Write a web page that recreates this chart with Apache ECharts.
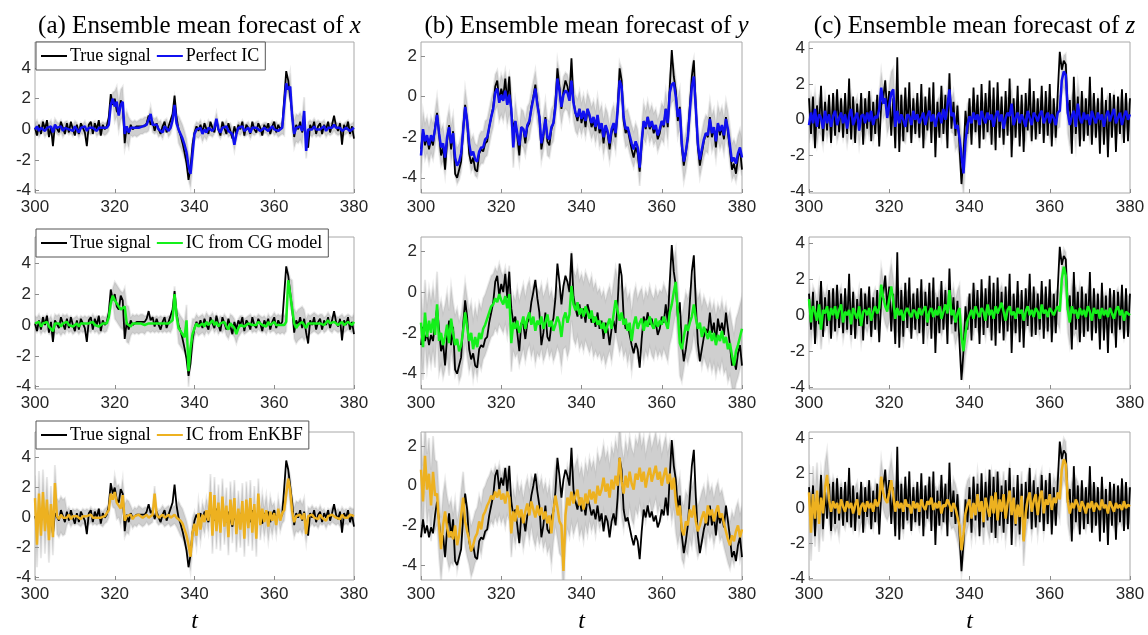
<!DOCTYPE html>
<html><head><meta charset="utf-8">
<script src="https://cdn.jsdelivr.net/npm/echarts@6/dist/echarts.min.js"></script>
<style>html,body{margin:0;padding:0;background:#fff}#c{width:1148px;height:635px}</style>
</head><body><div id="c"></div>
<script>
// time grid: t = 300 .. 380, step 0.5
const T_START = 300, T_STEP = 0.5;
const X_TICKS = [300, 320, 340, 360, 380];

// true signals
const trueX = [
 0.1,-0.4,0.3,-0.3,0.5,0.0,0.6,-0.5,0.2,-1.1,
 0.3,0.4,-0.2,0.5,0.1,-0.3,0.4,-0.2,0.5,0.0,
 -0.4,0.3,-0.3,0.4,0.1,-0.2,-1.1,0.3,0.5,-0.3,
 0.4,0.0,0.6,-0.4,0.3,0.0,0.2,0.8,2.3,1.6,
 2.0,1.2,1.0,1.9,1.6,-0.9,0.2,-0.3,0.3,0.0,
 0.1,0.2,0.1,0.2,0.3,0.2,0.4,0.9,0.3,0.5,
 -0.1,0.4,0.0,-0.3,0.2,0.5,-0.2,0.2,0.1,1.0,
 2.2,0.8,0.0,-0.4,-0.9,-1.5,-2.2,-3.3,-2.5,-1.0,
 -0.2,0.2,-0.1,0.3,-0.2,0.4,0.0,-0.3,0.5,0.1,
 -0.2,0.6,0.0,-0.4,0.5,0.1,-0.3,0.4,-0.1,-0.6,
 0.2,-0.3,0.3,0.0,0.5,-0.4,0.3,0.1,-0.3,0.5,
 0.0,-0.2,0.4,0.1,-0.4,0.3,0.0,0.4,-0.3,0.2,
 0.5,-0.2,0.3,0.0,0.2,0.1,3.8,3.2,3.3,1.0,
 -0.5,0.3,0.0,0.5,-0.2,0.4,-0.5,-1.2,0.3,0.0,
 0.5,-0.3,0.2,0.4,-0.3,0.3,0.0,0.5,-0.2,0.3,
 0.9,0.2,-0.1,0.4,-1.0,0.3,0.0,0.5,-0.3,0.2,
 -0.6];
const trueY = [
 -2.6,-1.7,-2.4,-2.0,-2.6,-2.1,-2.4,-1.5,-0.8,-1.8,
 -2.9,-2.5,-3.6,-2.2,-1.4,-2.6,-1.7,-3.8,-4.0,-3.6,
 -3.2,-1.6,-0.4,-1.2,-2.8,-3.3,-3.0,-3.6,-3.7,-2.8,
 -2.6,-2.7,-2.3,-2.2,-1.5,-1.0,-0.5,0.5,0.8,-0.2,
 0.4,0.0,0.9,-0.3,1.0,-0.8,-1.5,-1.2,-2.0,-2.9,
 -1.5,-1.6,-2.3,-1.5,-1.3,-0.5,0.0,0.6,-0.3,-1.0,
 -2.6,-2.0,-1.0,-2.2,-2.4,-1.6,-1.3,-0.3,1.4,0.5,
 -0.6,0.3,0.8,0.5,0.0,1.9,-0.2,-0.8,-1.2,-0.6,
 -1.3,-0.8,-1.5,-0.6,-1.0,-1.5,-1.2,-1.7,-1.0,-1.8,
 -1.4,-2.3,-1.5,-1.8,-2.6,-1.8,-1.4,-2.0,-0.6,1.4,
 0.8,-1.2,-1.8,-1.6,-2.1,-2.6,-3.0,-2.5,-2.8,-3.7,
 -2.3,-1.2,-1.6,-1.0,-1.6,-1.3,-1.8,-1.5,-2.1,-1.8,
 -1.2,-1.5,-0.6,-1.5,0.5,2.3,1.0,0.3,-1.2,-0.5,
 -2.5,-3.4,-2.8,-2.0,-0.5,1.0,1.8,-0.6,-2.5,-3.4,
 -2.8,-2.2,-1.8,-2.0,-1.0,-2.0,-1.5,-2.5,-1.3,-1.9,
 -1.5,-2.1,-1.0,-1.8,-2.6,-3.6,-3.3,-3.8,-3.0,-2.6,
 -3.6];
const trueZ = [
 1.2,-0.8,1.3,-1.6,0.8,-0.5,1.9,-1.2,1.0,-0.6,
 1.4,-1.3,1.5,-0.9,1.7,-0.7,1.2,-1.0,1.5,-0.8,
 2.3,-1.1,1.3,-1.3,0.9,-0.6,1.5,-1.4,1.2,-0.5,
 1.6,-1.2,1.0,-0.8,1.4,-1.5,0.8,1.2,2.2,0.4,
 1.6,-0.9,1.2,-1.6,3.5,-1.8,1.4,-1.2,1.8,-0.7,
 2.1,-1.3,1.2,-0.8,1.5,-1.0,2.0,-1.6,1.3,-0.6,
 1.8,-1.3,2.1,-2.1,1.0,-1.0,1.9,-0.8,1.4,-1.6,
 2.6,-0.5,1.0,-0.9,0.8,-1.5,-3.6,-2.0,0.5,-0.8,
 1.2,-1.4,1.8,-0.7,1.4,-1.6,2.0,-1.1,1.5,-0.7,
 2.2,-1.4,1.8,-1.7,2.1,-1.0,1.3,-1.4,1.6,-0.9,
 2.3,-2.1,1.2,-1.0,1.9,-1.5,1.4,-1.8,1.5,-0.6,
 2.3,-1.2,1.6,-1.1,1.2,-0.8,1.9,-1.3,1.6,-0.9,
 2.0,-1.5,1.2,-1.0,1.5,3.8,2.8,3.3,3.1,0.3,
 1.1,-1.9,2.4,-0.8,1.3,-1.5,1.6,-1.2,1.2,-0.9,
 2.4,-1.4,1.5,-1.0,1.2,-1.9,1.8,-1.4,1.1,-2.1,
 1.5,-1.0,1.4,-1.8,1.3,-0.8,1.7,-1.3,1.5,-1.2,
 1.2];

// ensemble mean forecasts
const fcX_perfect = [
 0.0,0.2,-0.1,0.1,0.2,-0.1,0.1,0.0,0.2,-0.2,
 0.3,0.1,0.0,0.2,-0.1,0.1,0.2,0.0,0.1,-0.1,
 0.2,0.1,-0.2,0.1,0.0,0.2,-0.1,0.1,0.0,0.1,
 0.2,-0.1,0.1,0.0,0.1,0.0,0.1,0.3,1.6,2.0,
 1.5,1.8,0.9,1.6,1.8,-0.3,0.2,-0.2,0.1,0.0,
 0.1,0.0,0.1,0.2,0.2,0.3,0.3,0.4,1.0,0.3,
 0.2,0.3,0.0,0.1,-0.2,0.2,0.3,-0.1,0.1,0.6,
 1.6,0.4,0.0,-0.3,-0.6,-1.0,-1.5,-2.4,-2.9,-1.6,
 -0.3,0.0,-0.1,0.1,-0.3,0.0,-0.2,0.1,0.0,-0.1,
 0.1,0.7,0.0,-0.2,0.1,0.0,0.2,-0.1,0.0,-0.3,
 -1.0,-0.3,0.1,0.0,0.2,-0.1,0.0,0.1,-0.2,0.1,
 0.0,0.1,0.2,-0.1,0.0,0.1,0.1,-0.1,0.0,0.2,
 0.0,0.1,-0.1,0.0,0.1,0.0,3.0,2.6,2.8,0.8,
 -0.3,0.1,0.0,0.2,-0.1,1.2,-1.4,0.0,0.1,0.0,
 0.2,0.0,0.1,0.0,0.1,0.2,-0.1,0.1,0.0,0.1,
 0.3,0.1,0.0,0.1,-0.1,0.0,0.1,0.2,-0.1,0.0,
 0.1];
const fcX_cg = [
 0.1,0.0,0.2,-0.1,0.1,0.0,0.2,-0.1,0.0,-0.4,
 0.1,0.0,0.1,-0.1,0.1,0.0,0.2,0.0,0.1,-0.1,
 0.0,0.1,-0.1,0.1,0.0,0.1,0.0,0.1,0.0,0.2,
 0.0,0.1,-0.1,0.0,0.1,0.0,0.1,0.5,1.4,1.9,
 1.6,1.4,1.2,1.0,0.9,1.2,0.1,0.0,-0.1,0.1,
 0.0,0.1,0.0,0.1,0.1,0.0,0.1,0.1,0.0,0.1,
 0.0,0.1,0.0,0.1,0.0,0.1,0.0,0.1,0.0,0.3,
 2.0,0.6,-0.2,-0.4,-0.6,-0.8,0.3,-3.0,-1.5,-0.6,
 -0.2,0.1,-0.1,0.0,0.1,-0.1,0.2,0.0,0.1,0.3,
 0.0,0.2,-0.1,0.1,0.0,0.2,-0.1,-0.3,0.1,0.0,
 -0.2,-0.6,-0.2,0.0,0.1,-0.1,0.0,0.1,0.2,0.0,
 0.1,0.0,0.2,0.1,0.0,0.1,-0.1,0.2,0.0,0.1,
 0.2,0.0,0.1,0.0,0.1,0.0,0.2,2.9,2.0,1.9,
 0.1,-0.2,0.0,0.1,0.2,0.0,-0.2,0.1,0.0,0.1,
 0.2,0.1,0.0,0.1,0.2,0.0,0.1,0.3,0.1,0.0,
 0.2,0.1,0.0,0.1,0.2,0.0,0.1,0.2,0.1,0.0,
 0.2];
const fcX_enkbf = [
 1.3,-1.8,1.6,-1.2,1.7,-0.9,1.2,-1.5,0.9,-1.3,
 2.3,0.1,-0.1,0.2,0.0,0.1,0.0,0.2,-0.1,0.1,
 0.0,0.1,0.0,-0.1,0.1,0.0,0.1,0.0,0.2,0.0,
 0.1,0.0,0.1,0.0,-0.1,0.1,0.2,0.5,1.6,1.2,
 1.7,1.0,1.1,0.6,1.5,-0.2,0.1,0.0,0.2,-0.1,
 0.1,0.0,0.2,0.1,0.0,0.1,0.2,0.0,0.1,0.2,
 1.6,0.2,0.0,0.1,0.2,0.0,0.1,0.2,0.0,0.1,
 0.2,0.0,0.1,-0.2,-0.4,-0.8,-1.2,-1.8,-2.6,-1.0,
 -0.4,-1.2,0.3,-0.8,0.2,-0.3,0.5,-0.2,1.7,-1.2,
 1.5,-0.9,1.0,-1.0,1.4,-0.6,0.8,-1.3,1.2,-0.5,
 1.3,-1.1,0.6,-0.8,1.1,-1.4,1.2,-0.7,1.3,-1.0,
 0.9,-1.4,1.6,-0.5,0.6,-0.3,0.5,-0.6,0.4,-0.2,
 0.3,-0.5,0.6,-0.2,0.3,0.5,1.6,2.6,1.8,0.4,
 -0.3,0.1,0.0,0.2,-0.1,0.3,-1.1,0.1,0.0,0.2,
 0.0,0.1,-0.1,0.2,0.0,0.1,-0.2,0.1,0.0,0.2,
 0.1,0.0,0.1,-0.1,0.2,0.0,0.1,0.0,0.2,0.1,
 0.1];
const fcY_perfect = [
 -2.9,-1.6,-2.2,-1.9,-2.4,-1.9,-2.2,-1.6,-0.9,-1.8,
 -2.5,-2.3,-3.0,-2.0,-1.5,-2.3,-1.8,-3.0,-3.4,-3.2,
 -2.8,-1.7,-0.5,-1.2,-2.3,-2.9,-2.7,-3.1,-3.2,-2.7,
 -2.5,-2.5,-2.1,-2.0,-1.5,-1.0,-0.6,0.2,0.4,-0.3,
 0.1,-0.2,0.3,-0.4,0.1,-0.6,-2.5,-1.2,-1.8,-2.4,
 -1.5,-1.6,-2.0,-1.4,-1.2,-0.6,-0.1,0.4,-0.4,-1.0,
 -2.3,-1.8,-1.1,-2.0,-2.1,-1.5,-1.3,-0.5,0.9,0.3,
 -0.5,0.1,0.3,0.2,-0.2,0.8,-0.3,-0.8,-1.0,-0.6,
 -1.1,-0.7,-1.2,-0.6,-0.9,-1.3,-1.0,-1.5,-0.9,-1.6,
 -1.3,-2.0,-1.4,-1.7,-2.3,-1.6,-1.3,-1.8,-0.7,0.8,
 0.5,-1.0,-1.6,-1.5,-1.9,-2.3,-2.6,-2.2,-2.5,-3.5,
 -2.2,-1.2,-1.5,-1.0,-1.5,-1.2,-1.6,-1.4,-1.9,-1.6,
 -1.2,-1.4,-0.6,-1.3,0.2,0.6,0.7,0.0,-1.0,-0.6,
 -2.3,-3.2,-2.7,-2.0,-0.7,0.5,1.0,-0.6,-2.3,-3.1,
 -2.6,-2.1,-1.8,-1.9,-1.1,-1.8,-1.5,-2.2,-1.3,-1.7,
 -1.4,-1.9,-1.1,-1.6,-2.4,-3.2,-3.0,-3.3,-2.8,-2.5,
 -3.0];
const fcY_cg = [
 -1.5,-2.7,-1.0,-2.2,-1.4,-2.0,-1.3,-2.1,-0.6,-2.4,
 -2.0,-2.6,-2.2,-1.6,-2.5,-1.3,-2.0,-2.6,-2.3,-2.9,
 -2.6,-1.9,-1.0,-1.7,-2.4,-2.0,-2.8,-2.2,-2.7,-2.0,
 -2.3,-1.8,-1.6,-1.3,-1.0,-0.7,-0.6,-0.3,-0.5,-0.1,
 -0.4,-0.6,-0.2,-0.8,-0.1,-2.5,-1.5,-1.8,-1.4,-2.0,
 -1.6,-1.2,-1.8,-1.3,-1.0,-1.6,-1.2,-1.9,-1.4,-1.6,
 -1.2,-1.8,-1.5,-1.1,-1.7,-1.4,-1.9,-1.6,-1.2,-1.5,
 -2.2,-1.3,-1.0,-1.5,-1.1,0.3,-0.6,-0.9,-0.5,-1.1,
 -0.8,-1.2,-0.7,-1.0,-1.3,-0.9,-1.5,-1.2,-1.6,-1.4,
 -1.8,-1.5,-2.0,-1.6,-1.3,-1.8,-1.1,-0.4,-0.9,-1.4,
 -1.0,-1.6,-1.3,-1.9,-1.5,-2.4,-1.6,-1.2,-1.8,-1.5,
 -1.3,-1.9,-1.4,-1.7,-1.2,-1.6,-1.8,-1.3,-1.7,-1.4,
 -1.6,-1.2,-1.5,-1.8,-1.0,-0.6,0.0,0.5,-1.0,-2.5,
 -2.8,-2.2,-1.6,-1.9,-1.5,-1.2,-0.6,-1.3,-1.8,-1.5,
 -2.2,-1.7,-2.0,-2.3,-1.9,-2.4,-2.0,-2.6,-2.1,-2.4,
 -1.9,-2.5,-2.2,-2.8,-2.5,-3.1,-3.6,-2.9,-2.6,-2.2,
 -1.8];
const fcY_enkbf = [
 0.8,-0.8,1.5,-0.2,0.6,-1.0,0.7,-0.5,-0.4,-2.0,
 -3.2,-2.0,-1.3,-2.1,-2.6,-2.3,-2.7,-2.0,-3.0,-2.5,
 -1.5,-0.6,-1.8,-2.3,-2.7,-3.3,-3.0,-2.6,-2.4,-1.8,
 -2.2,-1.5,-1.3,-1.0,-0.8,-0.5,-0.7,-0.3,-0.6,-0.2,
 -0.7,-0.4,-0.9,-0.3,-0.6,-2.4,-1.3,-1.8,-1.0,-1.6,
 -1.2,-1.9,-1.3,-0.9,-1.5,-0.8,-1.2,-1.6,-1.0,-1.5,
 -1.1,-1.7,-1.3,-1.9,-1.5,-2.4,-1.3,-0.5,-1.1,-1.8,
 -2.0,-4.3,-1.5,-0.6,-1.0,-0.3,-0.9,-0.5,-0.2,-1.0,
 -0.6,-1.2,-0.4,-0.9,-0.2,-0.7,-0.3,-0.9,0.0,-0.5,
 -0.2,0.4,-0.3,0.1,-0.6,0.3,-0.2,0.5,0.0,1.4,
 0.2,-0.4,0.5,-0.1,0.7,0.1,-0.2,0.6,0.3,0.9,
 0.2,0.7,-0.1,0.5,0.9,0.2,0.6,1.0,0.3,0.7,
 0.0,0.5,0.9,0.1,0.6,-0.2,0.4,-0.8,-1.5,-1.0,
 -2.2,-2.5,-1.8,-2.0,-1.2,-1.6,-1.0,-1.8,-2.3,-2.0,
 -1.6,-1.3,-1.9,-1.0,-1.5,-1.2,-1.8,-1.3,-1.0,-1.6,
 -1.4,-1.9,-2.3,-2.7,-3.0,-2.5,-2.8,-2.3,-2.0,-2.6,
 -2.2];
const fcZ_perfect = [
 -0.3,0.4,-0.2,0.6,-0.4,0.3,0.1,-0.5,0.5,-0.2,
 0.3,-0.4,0.2,0.5,-0.3,0.1,0.4,-0.2,0.3,-0.5,
 0.2,0.6,-0.3,0.1,0.4,-0.6,0.2,0.3,-0.2,0.4,
 -0.1,0.5,-0.3,0.2,0.1,0.6,1.8,0.9,1.2,0.1,
 0.8,1.5,1.7,-0.4,0.5,-0.2,0.3,0.0,-0.4,0.3,
 0.2,-0.3,0.5,0.0,0.3,-0.2,0.1,0.4,-0.3,0.2,
 0.5,-0.1,0.3,-0.4,0.2,0.4,-0.2,0.6,0.0,0.8,
 1.7,0.2,0.4,-0.5,-0.3,-1.0,-2.0,-3.0,-1.2,-0.3,
 0.2,-0.2,0.4,0.0,0.3,-0.3,0.5,0.1,-0.2,0.4,
 0.0,0.3,-0.4,0.2,0.5,-0.1,0.3,-0.5,0.1,0.4,
 0.2,0.9,-0.3,0.1,0.4,-0.2,0.3,0.0,-0.4,0.5,
 0.1,-0.3,0.4,0.2,-0.1,0.3,0.5,-0.2,0.1,0.4,
 -0.2,0.3,0.1,-0.3,0.4,0.5,2.2,2.7,2.5,0.4,
 -0.3,0.2,0.5,-0.4,0.9,0.1,-0.2,0.4,0.0,0.3,
 -0.3,0.5,0.1,-0.2,0.4,0.0,0.3,-0.4,0.2,0.5,
 -0.1,0.3,0.6,-0.2,0.1,0.4,-0.3,0.2,0.5,0.0,
 0.3];
const fcZ_cg = [
 0.9,-0.4,0.5,0.2,-0.3,0.6,-0.8,0.3,0.1,0.5,
 -0.3,0.4,0.0,0.5,-0.2,0.3,0.6,-0.4,0.2,0.0,
 0.3,-0.5,0.4,0.1,-0.2,0.5,-0.6,0.2,0.3,0.0,
 0.4,-0.3,0.2,0.5,0.1,0.4,1.7,1.0,0.5,0.2,
 0.9,1.6,0.8,-0.2,0.4,0.0,0.3,-0.3,0.2,0.4,
 0.1,-0.1,0.3,0.2,-0.2,0.4,0.0,0.3,0.5,-0.4,
 0.2,0.4,-0.1,0.3,0.0,0.5,-0.2,0.2,0.6,0.1,
 1.4,0.0,0.3,-0.4,0.1,0.4,-1.2,-2.0,-1.0,-0.3,
 0.0,0.3,-0.2,0.5,0.1,-0.1,0.4,0.2,-0.3,0.6,
 0.0,0.3,-0.2,0.5,0.1,0.4,0.7,0.2,-0.3,0.3,
 0.5,0.0,0.2,-0.2,0.4,0.1,0.3,-0.3,0.2,0.5,
 0.0,0.3,-0.1,0.4,0.2,-0.2,0.6,0.1,0.3,-0.1,
 0.4,0.2,0.0,0.3,0.5,0.2,2.0,2.7,2.2,0.3,
 -0.4,0.5,0.1,0.3,-0.2,0.4,0.0,0.3,-0.1,0.5,
 0.2,-0.3,0.4,0.1,0.3,-0.2,0.4,0.0,0.3,-0.1,
 0.4,0.1,-0.2,0.3,0.5,0.0,0.3,-0.3,0.2,0.1,
 0.0];
const fcZ_enkbf = [
 0.9,-1.4,0.8,-0.6,1.0,-0.9,0.6,-0.3,1.2,1.9,
 0.5,-0.2,0.4,0.0,0.3,-0.3,0.5,0.1,-0.2,0.4,
 0.0,0.3,-0.3,0.2,0.5,-0.4,0.1,0.3,-0.2,0.4,
 0.0,0.3,-0.2,0.5,0.1,0.4,1.8,0.9,0.5,0.3,
 0.9,1.6,0.7,-0.2,0.4,0.0,0.3,-0.2,0.5,0.1,
 0.2,-0.3,0.4,0.0,0.3,-0.2,0.5,0.1,-0.1,0.4,
 0.2,0.6,-0.1,0.3,0.0,0.4,-0.3,0.2,0.1,0.5,
 0.2,-0.2,0.3,0.0,-0.5,-1.0,-2.4,-1.5,-0.3,0.2,
 0.5,-0.6,0.3,-0.4,0.8,-0.2,0.4,-0.8,0.6,0.0,
 -0.5,0.7,-0.3,0.9,-0.7,0.5,-0.2,0.8,-0.6,0.3,
 1.0,-0.4,0.6,-0.9,0.2,-0.5,0.7,-1.9,-0.3,0.5,
 0.9,-0.2,0.4,0.8,-0.4,0.6,1.0,-0.3,0.5,0.2,
 0.8,-0.1,0.6,0.3,0.9,0.5,2.2,2.8,2.5,0.4,
 -0.3,0.3,0.0,0.5,0.2,-0.2,0.4,0.1,-0.3,0.3,
 0.0,0.4,-0.2,0.3,0.1,-0.1,0.5,0.0,0.2,-0.3,
 0.4,0.1,-0.2,0.3,0.0,0.2,-0.1,0.4,0.0,0.2,
 0.1];

// ensemble spread (half width), one value every 4 time units (t = 300, 304, ..., 380)
const spX_perfect = [0.4,0.4,0.35,0.35,0.4,1.0,0.5,0.5,0.4,0.9,0.5,0.4,0.4,0.4,0.35,0.4,0.9,0.5,0.4,0.4,0.4];
const spX_cg      = [0.5,0.6,0.5,0.5,0.5,1.2,0.6,0.5,0.5,1.0,0.6,0.5,0.6,0.5,0.5,0.6,1.0,0.6,0.5,0.5,0.5];
const spX_enkbf   = [1.5,1.2,0.5,0.5,0.5,1.1,0.6,0.5,0.6,1.0,0.8,1.2,1.2,1.2,1.0,0.7,1.0,0.6,0.5,0.5,0.5];
const spY_perfect = [0.9,0.9,0.9,0.8,0.9,1.0,0.9,0.9,0.9,0.9,0.8,0.9,0.9,0.9,0.8,0.9,1.0,0.9,0.9,0.9,0.9];
const spY_cg      = [1.6,1.6,1.5,1.5,1.5,1.4,1.6,1.6,1.5,1.7,1.7,1.6,1.6,1.5,1.5,1.6,1.6,1.5,1.5,1.6,1.6];
const spY_enkbf   = [1.8,1.6,1.3,1.3,1.3,1.2,1.3,1.5,1.6,1.6,1.6,1.7,1.8,1.8,1.7,1.6,1.5,1.3,1.2,1.2,1.2];
const spZ_perfect = [1.0,0.9,0.9,0.9,0.9,1.2,0.9,0.9,0.9,1.2,0.9,0.9,0.9,0.9,0.9,0.9,1.2,0.9,0.9,0.9,0.9];
const spZ_cg      = [1.1,1.0,1.0,1.0,1.0,1.3,1.0,1.0,1.0,1.3,1.0,1.0,1.0,1.0,1.0,1.0,1.3,1.0,1.0,1.0,1.0];
const spZ_enkbf   = [1.6,1.4,1.0,1.0,1.0,1.3,1.0,1.0,1.0,1.4,1.3,1.3,1.3,1.4,1.2,1.2,1.3,1.0,1.0,1.0,1.0];

const titles = ['(a) Ensemble mean forecast of ', '(b) Ensemble mean forecast of ', '(c) Ensemble mean forecast of '];
const titleVars = ['x', 'y', 'z'];
const fcNames = ['Perfect IC', 'IC from CG model', 'IC from EnKBF'];
const fcColors = ['#1010f0', '#14f01a', '#EDB120'];
const yTicksX = [-4, -2, 0, 2, 4];
const yTicksY = [-4, -2, 0, 2];
const yTicksZ = [-4, -2, 0, 2, 4];

// ---------- layout & building ----------
const colLeft = [35, 421, 809], colWidth = [319, 321, 321];
const rowTop = [42, 237, 432], rowHeight = [151, 152, 153];
const yRange = [[-4.15, 5.7], [-4.75, 2.7], [-4.1, 4.35]];
const yTicks = [yTicksX, yTicksY, yTicksZ];
const truths = [trueX, trueY, trueZ];
const fcs = [[fcX_perfect, fcX_cg, fcX_enkbf], [fcY_perfect, fcY_cg, fcY_enkbf], [fcZ_perfect, fcZ_cg, fcZ_enkbf]];
const sps = [[spX_perfect, spX_cg, spX_enkbf], [spY_perfect, spY_cg, spY_enkbf], [spZ_perfect, spZ_cg, spZ_enkbf]];

const tickFont = {fontFamily: 'Liberation Sans, Arial, sans-serif', fontSize: 17, color: '#262626'};
const serif = 'Liberation Serif, Times New Roman, serif';

const grids = [], xAxes = [], yAxes = [], series = [], legends = [], titleList = [];
const bandRows = [];
let k = 0;
for (let c = 0; c < 3; c++) {
  titleList.push({
    text: titles[c] + '{i|' + titleVars[c] + '}',
    left: colLeft[c] + colWidth[c] / 2, textAlign: 'center', top: 9,
    textStyle: {fontFamily: serif, fontSize: 25, fontWeight: 'normal', color: '#000',
      rich: {i: {fontFamily: serif, fontSize: 25, fontStyle: 'italic', color: '#000'}}}
  });
}

function makeBandRenderer(idx) {
  return function (params, api) {
    if (params.dataIndex !== 0) return null;
    const rows = bandRows[idx];
    const pts = [];
    for (let i = 0; i < rows.length; i++) pts.push(api.coord([rows[i][0], rows[i][2]]));
    for (let i = rows.length - 1; i >= 0; i--) pts.push(api.coord([rows[i][0], rows[i][1]]));
    return {type: 'polygon', shape: {points: pts}, style: {fill: 'rgba(140,140,140,0.42)', stroke: 'rgba(170,170,170,0.25)', lineWidth: 2}};
  };
}

for (let r = 0; r < 3; r++) {
  for (let c = 0; c < 3; c++) {
    grids.push({left: colLeft[c], top: rowTop[r], width: colWidth[c], height: rowHeight[r],
      show: true, borderColor: '#a8a8a8', borderWidth: 1, backgroundColor: 'transparent'});
    xAxes.push({type: 'value', gridIndex: k, min: 300, max: 380, interval: 20,
      axisLine: {show: false, onZero: false}, splitLine: {show: false},
      axisTick: {inside: true, length: 4, lineStyle: {color: '#8c8c8c'}},
      axisLabel: Object.assign({margin: 6}, tickFont),
      name: r === 2 ? 't' : '', nameLocation: 'middle', nameGap: 30,
      nameTextStyle: {fontFamily: serif, fontStyle: 'italic', fontSize: 24, color: '#000'}});
    yAxes.push({type: 'value', gridIndex: k, min: yRange[c][0], max: yRange[c][1],
      axisLine: {show: false, onZero: false}, splitLine: {show: false},
      axisTick: {inside: true, length: 4, customValues: yTicks[c], lineStyle: {color: '#8c8c8c'}},
      axisLabel: Object.assign({margin: 4, customValues: yTicks[c]}, tickFont)});
    const fc = fcs[c][r], sp = sps[c][r], tr = truths[c];
    const band = [], fcData = [], trData = [];
    for (let i = 0; i < fc.length; i++) {
      const t = T_START + i * T_STEP;
      const s = sp[Math.floor(i / 8)];
      band.push([t, fc[i] - s, fc[i] + s]);
      fcData.push([t, fc[i]]);
    }
    bandRows.push(band);
    for (let i = 0; i < tr.length; i++) trData.push([T_START + i * T_STEP, tr[i]]);
    series.push({type: 'custom', name: 'band' + k, xAxisIndex: k, yAxisIndex: k, data: band,
      renderItem: makeBandRenderer(k), silent: true, clip: true, z: 1,
      encode: {x: 0, y: [1, 2]}});
    series.push({type: 'line', name: 'True signal', xAxisIndex: k, yAxisIndex: k, data: trData,
      symbol: 'none', z: 2, lineStyle: {color: '#000', width: 1.8}, itemStyle: {color: '#000'}});
    series.push({type: 'line', name: fcNames[r], xAxisIndex: k, yAxisIndex: k, data: fcData,
      symbol: 'none', z: 3, lineStyle: {color: fcColors[r], width: 2.5}, itemStyle: {color: fcColors[r]}});
    k++;
  }
  legends.push({data: ['True signal', fcNames[r]], left: 36, top: [42, 229, 421][r],
    icon: 'rect', itemWidth: 26, itemHeight: 2, itemGap: 6, padding: [5, 6, 5, 5],
    borderColor: '#555', borderWidth: 1, backgroundColor: '#fff', selectedMode: false,
    textStyle: {fontFamily: serif, fontSize: 18, color: '#000', padding: [0, 0, 0, -2]}});
}

const chart = echarts.init(document.getElementById('c'), null, {renderer: 'canvas'});
chart.setOption({
  animation: false, backgroundColor: '#fff',
  title: titleList, grid: grids, xAxis: xAxes, yAxis: yAxes, legend: legends, series: series
});
</script></body></html>
